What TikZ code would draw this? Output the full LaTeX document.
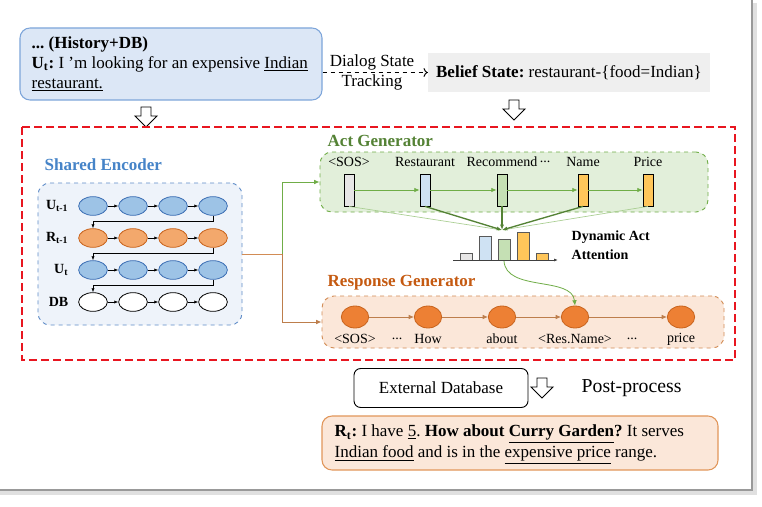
\documentclass[tikz,border=0pt]{standalone}
\usepackage{fontspec}
\setmainfont{Liberation Serif}
\usetikzlibrary{arrows.meta,shapes.geometric}
\frenchspacing

\definecolor{histfill}{RGB}{220,231,246}
\definecolor{histline}{RGB}{125,165,218}
\definecolor{beliefgray}{RGB}{239,239,239}
\definecolor{framered}{RGB}{232,22,32}
\definecolor{enclabel}{RGB}{70,132,200}
\definecolor{encfill}{RGB}{238,243,250}
\definecolor{encline}{RGB}{95,140,200}
\definecolor{nodeblue}{RGB}{157,195,230}
\definecolor{nodeblueline}{RGB}{60,110,180}
\definecolor{nodeorange}{RGB}{243,168,108}
\definecolor{nodeorangeline}{RGB}{200,100,30}
\definecolor{actgreen}{RGB}{84,130,53}
\definecolor{actfill}{RGB}{226,239,218}
\definecolor{actline}{RGB}{112,173,71}
\definecolor{resorange}{RGB}{197,90,17}
\definecolor{resfill}{RGB}{251,231,217}
\definecolor{resline}{RGB}{210,140,85}
\definecolor{resnodefill}{RGB}{237,128,52}
\definecolor{bargray}{RGB}{231,230,230}
\definecolor{barblue}{RGB}{207,226,243}
\definecolor{bargreen}{RGB}{197,224,180}
\definecolor{baryellow}{RGB}{255,198,90}
\definecolor{bottomline}{RGB}{225,150,90}

\tikzset{
  every node/.style={font=\fontsize{12.75}{14.6}\selectfont},
  small/.style={font=\fontsize{10.5}{12}\selectfont},
  encnode/.style 2 args={ellipse, draw=#2, fill=#1, line width=0.6pt,
    minimum width=21.5pt, minimum height=14pt, inner sep=0pt},
  encarrow/.style={-{Latex[length=3pt,width=2.5pt]}, line width=0.5pt},
  rowlab/.style={font=\fontsize{10.5}{12}\selectfont\bfseries, anchor=east},
  actbar/.style={draw, line width=0.6pt, minimum width=7.5pt,
    minimum height=24pt, inner sep=0pt},
  actarrow/.style={actline, -{Latex[length=4pt,width=3.5pt]}, line width=0.6pt},
  resnode/.style={ellipse, draw=nodeorangeline, fill=resnodefill, line width=0.6pt,
    minimum width=20.5pt, minimum height=16.5pt, inner sep=0pt},
  resarrow/.style={resline!90!black, -{Latex[length=4pt,width=3.5pt]}, line width=0.6pt},
  grouplab/.style={font=\fontsize{12.75}{14.6}\selectfont\bfseries, anchor=west},
  hollowdown/.pic={\draw[fill=white, line width=0.7pt]
    (-5,-10) -- (5,-10) -- (5,-1) -- (11,-1) -- (0,10) -- (-11,-1) -- (-5,-1) -- cycle;}
}

\begin{document}
\begin{tikzpicture}[x=0.75pt, y=-0.75pt]
  \useasboundingbox (0,0) rectangle (762,506);
  \fill[white] (0,0) rectangle (762,506);
  % page edge with shadow
  \draw[black!12, line width=2.5pt] (755,3) -- (755,493) -- (0,493);
  \draw[black!40, line width=1pt] (752,0) -- (752,490) -- (0,490);

  % input and belief state
  \node[draw=histline, fill=histfill, rounded corners=7.5pt, line width=0.8pt,
    minimum width=226.5pt, minimum height=54pt] (hist) at (171,64) {};
  \node[align=left, anchor=west, font=\fontsize{12.75}{14.8}\selectfont]
    (histtext) at (27,64)
    {\textbf{... (History+DB)}\\
     \textbf{U\textsubscript{t}:} I 'm looking for an expensive \underline{Indian}\\
     \underline{restaurant.}};
  \node[fill=beliefgray, minimum width=211.5pt, minimum height=29.25pt]
    (belief) at (569,72.5) {\textbf{Belief State:} restaurant-\{food=Indian\}};
  \node (dst1) at (372,62) {Dialog State};
  \node (dst2) at (372,82) {Tracking};
  \draw[dashed, ->, line width=0.7pt] (hist.east |- belief) -- (belief.west);

  \pic at (146,117) {hollowdown};
  \pic at (514,110) {hollowdown};

  % model frame
  \draw[framered, line width=1.6pt, dash pattern=on 6pt off 3pt] (22,127) rectangle (735,360);

  % shared encoder
  \node[grouplab, text=enclabel] (enclab) at (40,165) {Shared Encoder};
  \node[draw=encline, fill=encfill, dashed, rounded corners=9pt, line width=0.7pt,
    minimum width=153pt, minimum height=106.5pt] (enc) at (140,254) {};
  \foreach \r/\lab/\fc/\lc/\y in {1/{U\textsubscript{t-1}}/nodeblue/nodeblueline/206,
      2/{R\textsubscript{t-1}}/nodeorange/nodeorangeline/238,
      3/{U\textsubscript{t}}/nodeblue/nodeblueline/270,
      4/DB/white/black/302} {
    \node[rowlab] (lab\r) at (73,\y) {\lab};
    \foreach \c/\x in {1/93,2/133,3/173,4/213}
      \node[encnode={\fc}{\lc}] (e\r\c) at (\x,\y) {};
  }
  \foreach \r in {1,...,4}
    \foreach \c [count=\n from 2] in {1,2,3}
      \draw[encarrow] (e\r\c) -- (e\r\n);
  \foreach \r [count=\n from 2] in {1,2,3}
    \draw[encarrow] (e\r4.south) -- ++(0,6) -| (e\n1.north);

  % act generator
  \node[grouplab, text=actgreen] (actlab) at (323,141) {Act Generator};
  \node[draw=actline, fill=actfill, dashed, rounded corners=9pt, line width=0.7pt,
    minimum width=291pt, minimum height=45pt] (act) at (514,182) {};
  \foreach \i/\x/\col/\lab in {1/349/bargray/{<SOS>}, 2/425/barblue/Restaurant,
      3/502/bargreen/Recommend, 4/583/baryellow/Name, 5/648/baryellow/Price} {
    \node[actbar, fill=\col] (a\i) at (\x,190) {};
    \node[small] (al\i) at (\x,162) {\lab};
  }
  \node[small] (adots) at (545,162) {...};
  \foreach \i [count=\n from 2] in {1,...,4}
    \draw[actarrow] (a\i) -- (a\n);

  % dynamic act attention
  \coordinate (att) at (502,230);
  \draw[actline!60, line width=0.5pt, -{Latex[length=3pt]}] (a1.south) -- (att);
  \draw[actline!60, line width=0.5pt, -{Latex[length=3pt]}] (a5.south) -- (att);
  \foreach \i in {2,3,4}
    \draw[actgreen, line width=1pt, -{Latex[length=4pt]}] (a\i.south) -- (att);
  \foreach \x/\t/\col in {460/253/bargray, 479/236/barblue, 498/239/bargreen,
      517/232/baryellow, 536/253/baryellow}
    \draw[fill=\col, draw=black!65, line width=0.5pt] (\x,\t) rectangle (\x+12,260);
  \draw[black!75, line width=0.6pt, -{Latex[length=3pt]}] (453,260) -- (558,260);
  \node[small, font=\fontsize{10.5}{14}\selectfont\bfseries, align=left, anchor=west]
    (attlab) at (567,245) {Dynamic Act\\Attention};
  \coordinate (attn) at (504,261);

  % response generator
  \node[grouplab, text=resorange] (reslab) at (323,283) {Response Generator};
  \node[draw=resline, fill=resfill, dashed, rounded corners=9pt, line width=0.7pt,
    minimum width=301.5pt, minimum height=39pt] (resp) at (523,322) {};
  \foreach \i/\x/\lab in {1/355/{<SOS>}, 2/428/How, 3/502/about,
      4/575/{<Res.Name>}, 5/681/price} {
    \node[resnode] (r\i) at (\x,317) {};
    \node[small] (rl\i) at (\x,339) {\lab};
  }
  \node[small] (rdots1) at (397,339) {...};
  \node[small] (rdots2) at (632,339) {...};
  \foreach \i [count=\n from 2] in {1,...,4}
    \draw[resarrow] (r\i) -- (r\n);
  \draw[actline, line width=0.6pt, -{Latex[length=4pt,width=3.5pt]}]
    (attn) .. controls (506,292) and (572,276) .. (r4.north);

  % encoder output
  \coordinate (split) at (282,254);
  \draw[resline, line width=0.7pt] (enc.east |- split) -- (split);
  \draw[actline, line width=0.7pt, -{Latex[length=4pt,width=3.5pt]}] (split) |- (act.west);
  \draw[resline!90!black, line width=0.7pt, -{Latex[length=4pt,width=3.5pt]}] (split) |- (resp.west);

  % post-processing
  \node[draw, rounded corners=5pt, line width=0.7pt, minimum width=130.5pt,
    minimum height=29.25pt] (extdb) at (441,388) {External Database};
  \pic at (542,388) {hollowdown};
  \node[anchor=west, font=\fontsize{14.8}{16}\selectfont] (post) at (577,388) {Post-process};
  \node[draw=bottomline, fill=resfill, rounded corners=7.5pt, line width=0.8pt,
    minimum width=297pt, minimum height=40.5pt] (reply) at (520,443) {};
  \node[align=left, anchor=west, font=\fontsize{12.75}{15.8}\selectfont]
    (replytext) at (330,444.5)
    {\textbf{R\textsubscript{t}:} I have \underline{5}. \textbf{How about \underline{Curry Garden}?} It serves\\
     \underline{Indian food} and is in the \underline{expensive price} range.};
\end{tikzpicture}
\end{document}
